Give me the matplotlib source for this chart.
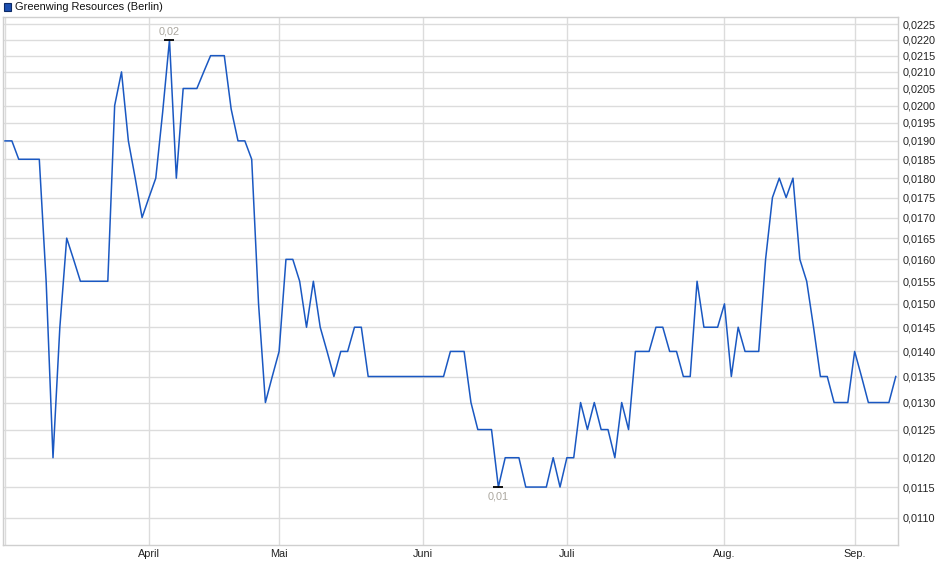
import numpy as np
import matplotlib
matplotlib.use("Agg")
import matplotlib.pyplot as plt
from matplotlib.ticker import FixedLocator, FuncFormatter, NullLocator

# ---- data ----
title = "Greenwing Resources (Berlin)"
prices = [
    0.019, 0.019, 0.0185, 0.0185, 0.0185, 0.0185, 0.0155, 0.012, 0.0145, 0.0165,
    0.016, 0.0155, 0.0155, 0.0155, 0.0155, 0.0155, 0.020, 0.021, 0.019, 0.018,
    0.017, 0.0175, 0.018, 0.0198, 0.022, 0.018, 0.0205, 0.0205, 0.0205, 0.021,
    0.0215, 0.0215, 0.0215, 0.0199, 0.019, 0.019, 0.0185, 0.015, 0.013, 0.0135,
    0.014, 0.016, 0.016, 0.0155, 0.0145, 0.0155, 0.0145, 0.014, 0.0135, 0.014,
    0.014, 0.0145, 0.0145, 0.0135, 0.0135, 0.0135, 0.0135, 0.0135, 0.0135, 0.0135,
    0.0135, 0.0135, 0.0135, 0.0135, 0.0135, 0.014, 0.014, 0.014, 0.013, 0.0125,
    0.0125, 0.0125, 0.0115, 0.012, 0.012, 0.012, 0.0115, 0.0115, 0.0115, 0.0115,
    0.012, 0.0115, 0.012, 0.012, 0.013, 0.0125, 0.013, 0.0125, 0.0125, 0.012,
    0.013, 0.0125, 0.014, 0.014, 0.014, 0.0145, 0.0145, 0.014, 0.014, 0.0135,
    0.0135, 0.0155, 0.0145, 0.0145, 0.0145, 0.015, 0.0135, 0.0145, 0.014, 0.014,
    0.014, 0.016, 0.0175, 0.018, 0.0175, 0.018, 0.016, 0.0155, 0.0145, 0.0135,
    0.0135, 0.013, 0.013, 0.013, 0.014, 0.0135, 0.013, 0.013, 0.013, 0.013,
    0.0135,
]
month_pos = [21, 40, 61, 82, 105, 124]
month_labels = ["April", "Mai", "Juni", "Juli", "Aug.", "Sep."]
y_ticks = [0.0110, 0.0115, 0.0120, 0.0125, 0.0130, 0.0135, 0.0140, 0.0145,
           0.0150, 0.0155, 0.0160, 0.0165, 0.0170, 0.0175, 0.0180, 0.0185,
           0.0190, 0.0195, 0.0200, 0.0205, 0.0210, 0.0215, 0.0220, 0.0225]

plt.rcParams['font.family'] = ['Liberation Sans', 'DejaVu Sans']

W, H = 940, 579
fig = plt.figure(figsize=(W / 100, H / 100), dpi=100)
L, R, T, B = 2.5, 898.3, 16.7, 545.0
ax = fig.add_axes([L / W, 1 - B / H, (R - L) / W, (B - T) / H])

x = np.arange(len(prices))
y = np.array(prices)
line_col = "#1a58c2"
grid_col = "#dcdcdc"

ax.set_yscale("log")
ax.set_ylim(0.010573, 0.02275)
ax.set_xlim(-0.37, len(prices) - 1 + 0.37)

# grid
for v in y_ticks:
    ax.axhline(v, color=grid_col, lw=1.0, zorder=1)
for p in [0] + month_pos:
    ax.axvline(p, color=grid_col, lw=1.0, zorder=1)

ax.plot(x, y, color=line_col, lw=1.1, zorder=3)

# annotations for max/min
imax = int(np.argmax(y))
imin = int(np.argmin(y))
ann_col = "#aba79f"
ax.plot([imax], [y[imax]], marker="_", color="black", ms=6.5, mew=1.3, zorder=4)
ax.plot([imin], [y[imin]], marker="_", color="black", ms=6.5, mew=1.3, zorder=4)
ax.annotate("0,02", (imax, y[imax]), xytext=(0, 6), textcoords="offset points",
            ha="center", va="center", fontsize=7.8, color=ann_col)
ax.annotate("0,01", (imin, y[imin]), xytext=(0, -7), textcoords="offset points",
            ha="center", va="center", fontsize=7.8, color=ann_col)

# axes styling
for s in ax.spines.values():
    s.set_color("#cfcfcf")
    s.set_linewidth(1.0)

ax.yaxis.tick_right()
ax.yaxis.set_major_locator(FixedLocator(y_ticks))
ax.yaxis.set_minor_locator(NullLocator())
ax.yaxis.set_major_formatter(FuncFormatter(lambda v, p: f"{v:.4f}".replace(".", ",")))
ax.tick_params(axis="y", which="both", length=0, pad=3, labelsize=7.8, colors="#222222")

ax.xaxis.set_major_locator(FixedLocator(month_pos))
ax.xaxis.set_minor_locator(NullLocator())
ax.set_xticklabels(month_labels)
ax.tick_params(axis="x", length=0, pad=3, labelsize=7.8, colors="#222222")

# legend
fig.patches.append(matplotlib.patches.Rectangle((3.5 / W, 1 - 10.5 / H), 7.5 / W, 7.5 / H,
                   transform=fig.transFigure, facecolor="#1c4fb0",
                   edgecolor="#0d2a66", lw=0.8))
fig.text(15 / W, 1 - 6.5 / H, title, ha="left", va="center", fontsize=7.9, color="#111111")

fig.savefig("out.png", dpi=100)
